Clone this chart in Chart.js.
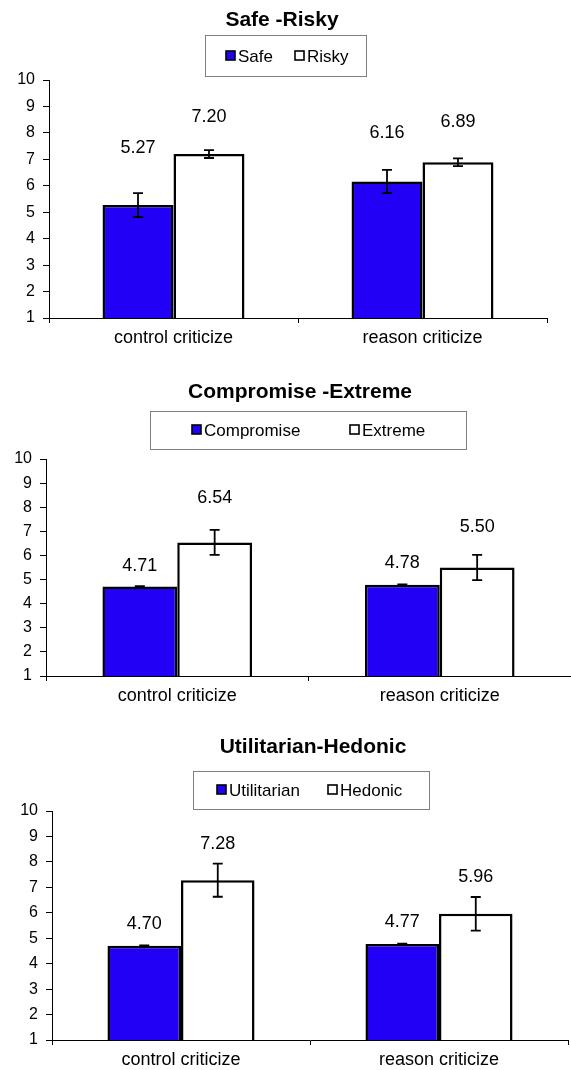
<!DOCTYPE html>
<html><head><meta charset="utf-8">
<script src="https://cdn.jsdelivr.net/npm/chart.js@4"></script>
<style>
body{margin:0;background:#fff;width:571px;height:1070px;position:relative;overflow:hidden}
canvas{position:absolute;left:0}
</style></head>
<body>
<canvas id="c1" width="571" height="355" style="top:0px"></canvas>
<canvas id="c2" width="571" height="350" style="top:360px"></canvas>
<canvas id="c3" width="571" height="350" style="top:720px"></canvas>
<script>
// ---- data ----
const categories = ['control criticize', 'reason criticize'];
const yTicks = [1, 2, 3, 4, 5, 6, 7, 8, 9, 10];

const chart1Title = 'Safe -Risky';
const safeLabel = 'Safe';
const safeValues = [5.27, 6.16];
const safeErrors = [0.45, 0.44];
const riskyLabel = 'Risky';
const riskyValues = [7.20, 6.89];
const riskyErrors = [0.15, 0.15];

const chart2Title = 'Compromise -Extreme';
const compromiseLabel = 'Compromise';
const compromiseValues = [4.71, 4.78];
const compromiseErrors = [0.02, 0.02];
const extremeLabel = 'Extreme';
const extremeValues = [6.54, 5.50];
const extremeErrors = [0.52, 0.52];

const chart3Title = 'Utilitarian-Hedonic';
const utilitarianLabel = 'Utilitarian';
const utilitarianValues = [4.70, 4.77];
const utilitarianErrors = [0.02, 0.02];
const hedonicLabel = 'Hedonic';
const hedonicValues = [7.28, 5.96];
const hedonicErrors = [0.65, 0.66];

// ---- style ----
const FONT = "'Liberation Sans', Arial, sans-serif";
const BLUE = '#2200F6';

const decorPlugin = {
  id: 'decor',
  afterDatasetsDraw(chart, args, opts) {
    const ctx = chart.ctx, y = chart.scales.y;
    chart.data.datasets.forEach((ds, i) => {
      const meta = chart.getDatasetMeta(i);
      meta.data.forEach((bar, j) => {
        const v = ds.data[j], e = ds.errors[j];
        const yt = y.getPixelForValue(v + e), yb = y.getPixelForValue(v - e);
        ctx.save();
        ctx.strokeStyle = '#000'; ctx.lineWidth = 1.8;
        ctx.beginPath();
        ctx.moveTo(bar.x, yt); ctx.lineTo(bar.x, yb);
        ctx.moveTo(bar.x - 5, yt); ctx.lineTo(bar.x + 5, yt);
        ctx.moveTo(bar.x - 5, yb); ctx.lineTo(bar.x + 5, yb);
        ctx.stroke();
        ctx.fillStyle = '#000';
        ctx.font = '18px ' + FONT;
        ctx.textAlign = 'center'; ctx.textBaseline = 'middle';
        ctx.fillText(v.toFixed(2), bar.x, yt - opts.labelOffsets[i][j]);
        ctx.restore();
      });
    });
  },
  afterDraw(chart, args, opts) {
    const ctx = chart.ctx;
    ctx.save();
    // title
    ctx.fillStyle = '#000';
    ctx.font = 'bold 21px ' + FONT;
    ctx.textAlign = 'center'; ctx.textBaseline = 'middle';
    ctx.fillText(opts.title, opts.titleX, opts.titleY);
    // legend box
    const b = opts.box;
    ctx.strokeStyle = '#808080'; ctx.lineWidth = 1;
    ctx.strokeRect(b.x + 0.5, b.y + 0.5, b.w, b.h);
    ctx.font = '17px ' + FONT;
    ctx.textAlign = 'left';
    chart.data.datasets.forEach((ds, i) => {
      const x = opts.itemX[i], cy = opts.itemY;
      ctx.fillStyle = ds.backgroundColor;
      ctx.fillRect(x, cy - 5, 9, 9);
      ctx.strokeStyle = '#000'; ctx.lineWidth = 1.6;
      ctx.strokeRect(x, cy - 5, 9, 9);
      ctx.fillStyle = '#000';
      ctx.fillText(ds.label, x + 12, cy + 1);
    });
    ctx.restore();
  }
};

function makeChart(id, title, dsA, dsB, lay) {
  const H = document.getElementById(id).height;
  return new Chart(document.getElementById(id), {
    type: 'bar',
    data: {
      labels: categories,
      datasets: [
        { label: dsA.label, data: dsA.values, errors: dsA.errors, backgroundColor: BLUE,
          borderColor: '#000', borderWidth: 2.5, borderSkipped: false },
        { label: dsB.label, data: dsB.values, errors: dsB.errors, backgroundColor: '#FFFFFF',
          borderColor: '#000', borderWidth: 2.5, borderSkipped: false }
      ]
    },
    options: {
      responsive: false, animation: false, devicePixelRatio: 1,
      categoryPercentage: 0.57, barPercentage: 1.0,
      layout: { padding: { top: lay.top, left: 0, right: lay.right, bottom: 0 } },
      plugins: {
        legend: { display: false }, title: { display: false }, tooltip: { enabled: false },
        decor: { title: title, titleX: lay.titleX, titleY: lay.titleY, box: lay.box,
                 itemX: lay.itemX, itemY: lay.itemY, labelOffsets: lay.labelOffsets }
      },
      scales: {
        x: {
          grid: { drawOnChartArea: false, offset: true, color: '#000', tickLength: 5 },
          border: { color: '#000', width: 1 },
          ticks: { color: '#000', font: { family: FONT, size: 18 }, padding: 4, maxRotation: 0 },
          afterFit(s) { s.height = H - lay.bottom; }
        },
        y: {
          min: yTicks[0], max: yTicks[yTicks.length - 1],
          grid: { drawOnChartArea: false, color: '#000', tickLength: 6 },
          border: { color: '#000', width: 1 },
          ticks: { stepSize: 1, color: '#000', font: { family: FONT, size: 16 }, padding: 8 },
          afterFit(s) { s.width = lay.left; }
        }
      }
    },
    plugins: [decorPlugin]
  });
}

makeChart('c1', chart1Title,
  { label: safeLabel, values: safeValues, errors: safeErrors },
  { label: riskyLabel, values: riskyValues, errors: riskyErrors },
  { top: 80, bottom: 318, left: 49, right: 24, titleX: 282, titleY: 20,
    box: { x: 205, y: 35, w: 161, h: 41 }, itemX: [226, 295], itemY: 56,
    labelOffsets: [[45, 37], [33, 36]] });

makeChart('c2', chart2Title,
  { label: compromiseLabel, values: compromiseValues, errors: compromiseErrors },
  { label: extremeLabel, values: extremeValues, errors: extremeErrors },
  { top: 99, bottom: 316, left: 46, right: 0, titleX: 300, titleY: 32,
    box: { x: 150, y: 51, w: 316, h: 38 }, itemX: [192, 350], itemY: 70,
    labelOffsets: [[20, 21], [32, 28]] });

makeChart('c3', chart3Title,
  { label: utilitarianLabel, values: utilitarianValues, errors: utilitarianErrors },
  { label: hedonicLabel, values: hedonicValues, errors: hedonicErrors },
  { top: 91, bottom: 320, left: 52, right: 3, titleX: 313, titleY: 27,
    box: { x: 193, y: 51, w: 236, h: 38 }, itemX: [217, 328], itemY: 70,
    labelOffsets: [[21, 22], [20, 20]] });
</script>
</body></html>
